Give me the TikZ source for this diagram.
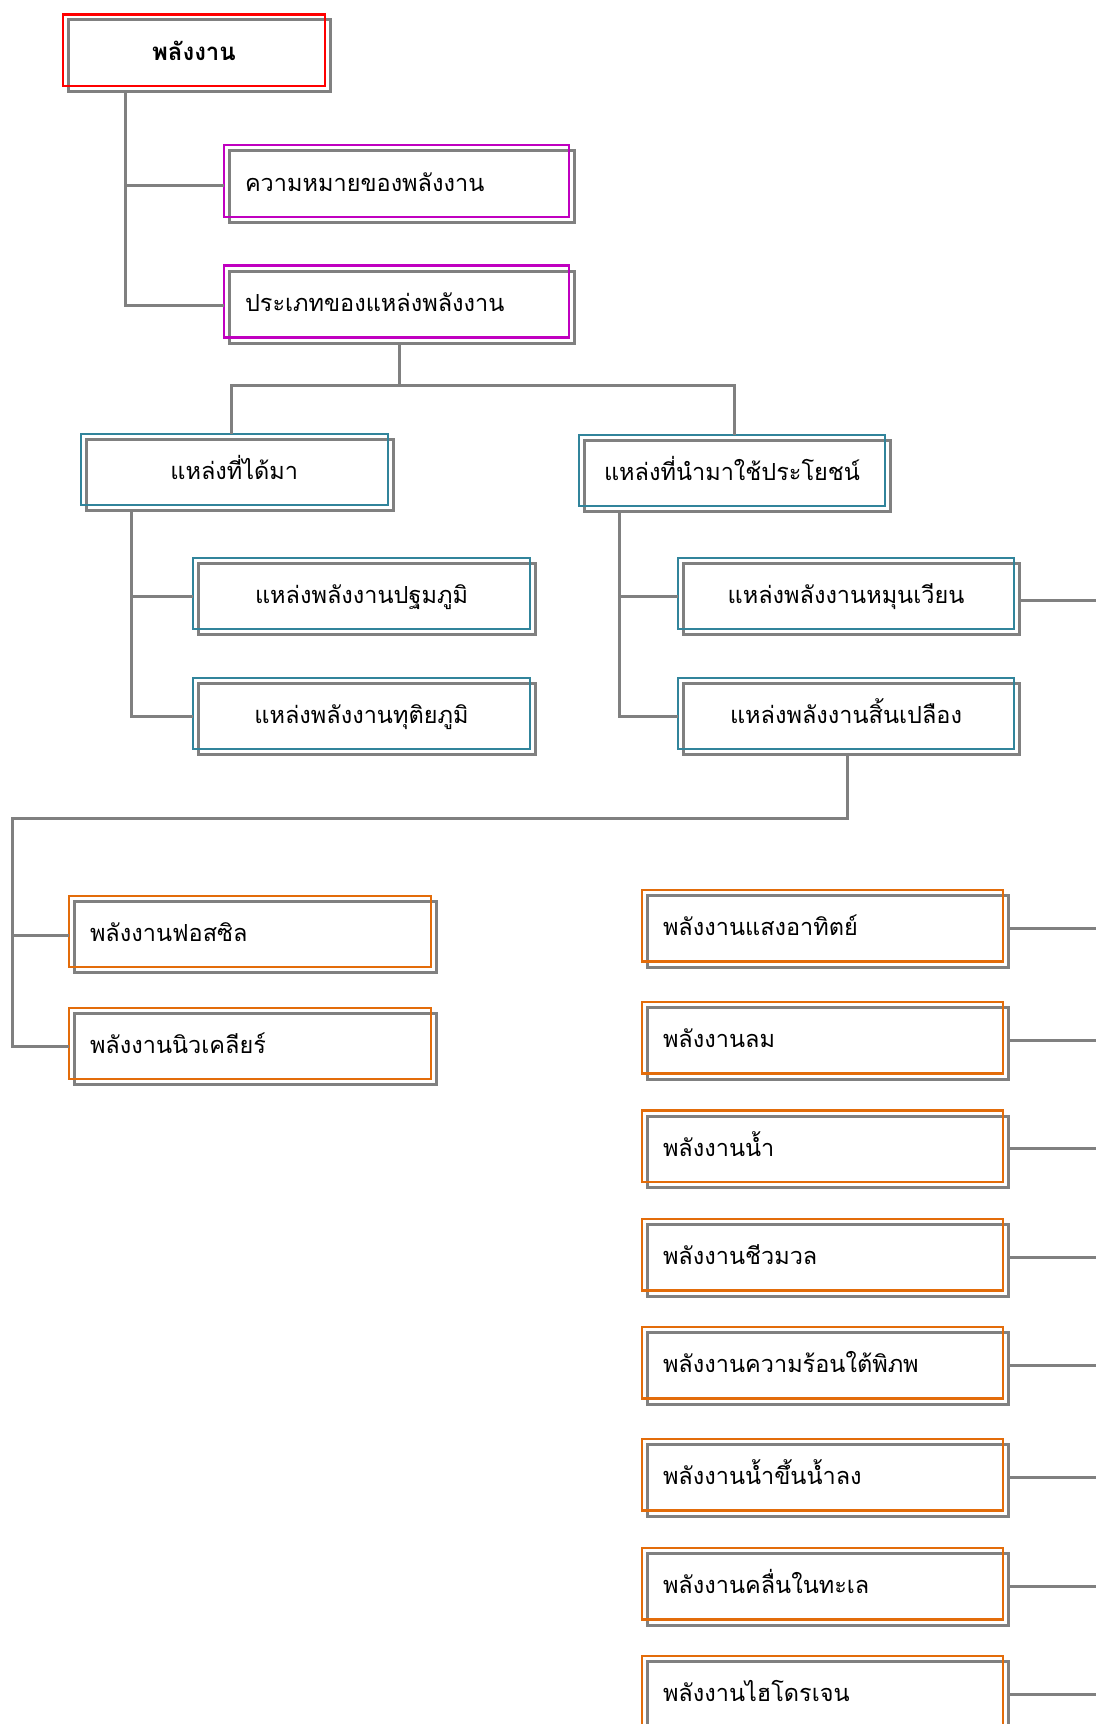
\documentclass[tikz,border=0pt]{standalone}
\usepackage{fontspec}
\newfontfamily\thaifont[Script=Thai]{Loma}
\definecolor{cred}{HTML}{FF0000}
\definecolor{cmag}{HTML}{C000C0}
\definecolor{cteal}{HTML}{31849B}
\definecolor{corange}{HTML}{E36C0A}
\definecolor{cgray}{HTML}{808080}
\tikzset{
  ebox/.style={draw=#1, line width=2.5pt, inner sep=0pt, outer sep=0pt,
    font=\thaifont\fontsize{23.5}{28}\selectfont, text height=20pt, text depth=0pt,
    preaction={draw=cgray, line width=3pt, transform canvas={shift={(5.5pt,-5.5pt)}}}},
  cbox/.style={ebox=#1, align=center},
  lbox/.style={ebox=#1, align=left, inner xsep=21pt},
  conn/.style={draw=cgray, line width=3pt}
}
\begin{document}
\begin{tikzpicture}[x=1pt, y=-1pt]
\useasboundingbox[fill=white] (0,0) rectangle (1095,1724);
% level 0
\node[cbox=cred, minimum width=262pt, minimum height=71.5pt, font=\thaifont\bfseries\fontsize{24}{28}\selectfont] (root) at (194,50) {พลังงาน};
% level 1
\node[lbox=cmag, text width=303pt, minimum height=72pt] (def) at (396.5,181) {ความหมายของพลังงาน};
\node[lbox=cmag, text width=303pt, minimum height=72pt] (types) at (396.5,301.7) {ประเภทของแหล่งพลังงาน};
% level 2
\node[cbox=cteal, minimum width=307pt, minimum height=71pt] (got) at (234.3,469.5) {แหล่งที่ได้มา};
\node[cbox=cteal, minimum width=306pt, minimum height=71pt] (use) at (732,470.5) {แหล่งที่นำมาใช้ประโยชน์};
% level 3
\node[cbox=cteal, minimum width=337pt, minimum height=71pt] (prim) at (361.5,593.5) {แหล่งพลังงานปฐมภูมิ};
\node[cbox=cteal, minimum width=337pt, minimum height=71pt] (sec) at (361.5,713.5) {แหล่งพลังงานทุติยภูมิ};
\node[cbox=cteal, minimum width=336pt, minimum height=71pt] (renew) at (846,593.5) {แหล่งพลังงานหมุนเวียน};
\node[cbox=cteal, minimum width=336pt, minimum height=71pt] (nonrenew) at (846,713.5) {แหล่งพลังงานสิ้นเปลือง};
% level 4 left
\node[lbox=corange, text width=320pt, minimum height=71pt] (fossil) at (250,931.5) {พลังงานฟอสซิล};
\node[lbox=corange, text width=320pt, minimum height=71pt] (nuclear) at (250,1043.5) {พลังงานนิวเคลียร์};
% level 4 right
\node[lbox=corange, text width=319pt, minimum height=71.5pt] (solar) at (822.5,925.75) {พลังงานแสงอาทิตย์};
\node[lbox=corange, text width=319pt, minimum height=71.5pt] (wind) at (822.5,1037.75) {พลังงานลม};
\node[lbox=corange, text width=319pt, minimum height=71.5pt] (hydro) at (822.5,1146.45) {พลังงานน้ำ};
\node[lbox=corange, text width=319pt, minimum height=71.5pt] (bio) at (822.5,1254.75) {พลังงานชีวมวล};
\node[lbox=corange, text width=319pt, minimum height=71.5pt] (geo) at (822.5,1362.75) {พลังงานความร้อนใต้พิภพ};
\node[lbox=corange, text width=319pt, minimum height=71.5pt] (tide) at (822.5,1474.75) {พลังงานน้ำขึ้นน้ำลง};
\node[lbox=corange, text width=319pt, minimum height=71.5pt] (wave) at (822.5,1583.75) {พลังงานคลื่นในทะเล};
\node[lbox=corange, text width=319pt, minimum height=71.5pt] (hydrogen) at (822.5,1691.75) {พลังงานไฮโดรเจน};
% connectors
\draw[conn] ([xshift=-69pt,yshift=-5.5pt]root.south) |- ([yshift=-4pt]def.west);
\draw[conn] ([xshift=-69pt,yshift=-5.5pt]root.south) |- ([yshift=-4pt]types.west);
\draw[conn] ([xshift=2.5pt,yshift=-5.5pt]types.south) -- ++(0pt,-42pt) coordinate (tbus);
\draw[conn] ([xshift=-3pt]got.north) |- (tbus) -| ([xshift=2.5pt]use.north);
\draw[conn] ([xshift=-103pt,yshift=-5.5pt]got.south) |- ([yshift=-3pt]prim.west);
\draw[conn] ([xshift=-103pt,yshift=-5.5pt]got.south) |- ([yshift=-3pt]sec.west);
\draw[conn] ([xshift=-113pt,yshift=-5.5pt]use.south) |- ([yshift=-3pt]renew.west);
\draw[conn] ([xshift=-113pt,yshift=-5.5pt]use.south) |- ([yshift=-3pt]nonrenew.west);
\draw[conn] ([xshift=5.5pt,yshift=-6.5pt]renew.east) -- ++(90pt,0pt);
\coordinate (lbus) at (12,818);
\draw[conn] ([xshift=1.5pt,yshift=-5.5pt]nonrenew.south) |- (lbus) |- ([yshift=-3.5pt]fossil.west);
\draw[conn] (lbus) |- ([yshift=-2.5pt]nuclear.west);
\foreach \n in {solar,wind,hydro,bio,geo,tide,wave,hydrogen}{
  \draw[conn] ([xshift=5.5pt,yshift=-2.5pt]\n.east) -- ++(100pt,0pt);
}
\end{tikzpicture}
\end{document}
